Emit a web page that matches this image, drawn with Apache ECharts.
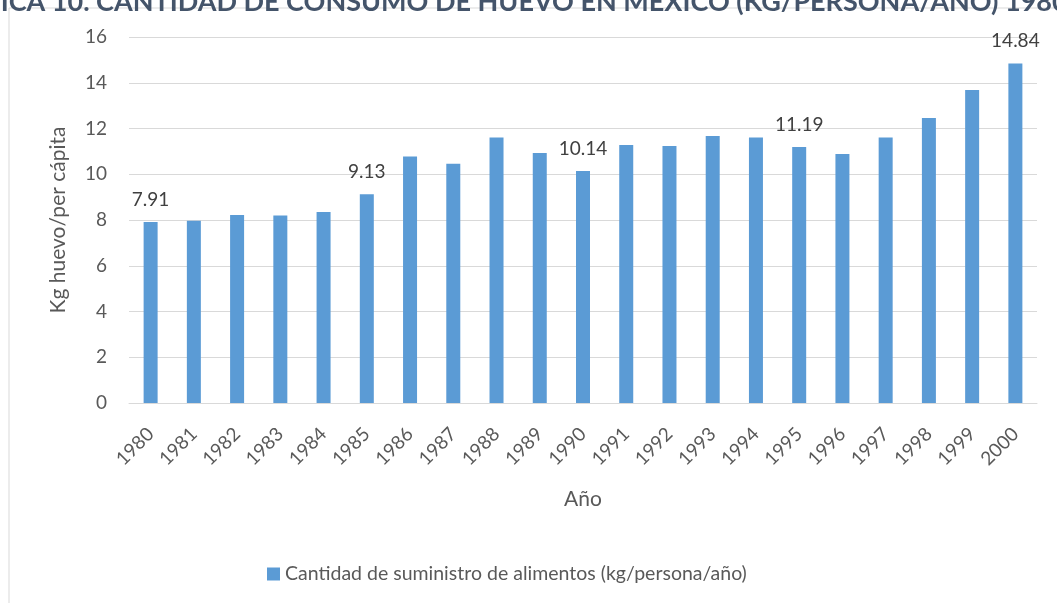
<!DOCTYPE html>
<html>
<head>
<meta charset="utf-8">
<script src="https://cdn.jsdelivr.net/npm/echarts@6/dist/echarts.min.js"></script>
<style>
  html, body { margin: 0; padding: 0; background: #fff; }
  #chart { width: 1057px; height: 603px; }
</style>
</head>
<body>
<div id="chart"></div>
<script>
const years = ['1980', '1981', '1982', '1983', '1984', '1985', '1986', '1987', '1988', '1989', '1990',
  '1991', '1992', '1993', '1994', '1995', '1996', '1997', '1998', '1999', '2000'];
const consumo = [7.91, 7.97, 8.22, 8.2, 8.35, 9.13, 10.78, 10.46, 11.61, 10.93, 10.14,
  11.28, 11.23, 11.67, 11.61, 11.19, 10.89, 11.61, 12.46, 13.68, 14.84];
// only these years carry a value label
const labeledYears = ['1980', '1985', '1990', '1995', '2000'];
const yTicks = [0, 2, 4, 6, 8, 10, 12, 14, 16];

const titleText = 'GRÁFICA 10. CANTIDAD DE CONSUMO DE HUEVO EN MÉXICO (KG/PERSONA/AÑO) 1980-2000';
const seriesName = 'Cantidad de suministro de alimentos (kg/persona/año)';
const font = 'Lato, "Open Sans", sans-serif';

(function () {
  const el = document.getElementById('chart');
  const chart = echarts.init(el);

  const option = {
    animation: false,
    textStyle: { fontFamily: font },
    graphic: [
      {
        type: 'rect',
        shape: { x: 9, y: 8, width: 1200, height: 800 },
        style: { fill: 'none', stroke: '#d9d9d9', lineWidth: 1 },
        silent: true
      },
      {
        // caption sits above the chart and is cut off by the page edge
        type: 'text',
        x: 535,
        y: 16,
        style: {
          text: titleText,
          fill: '#44546a',
          font: 'bold 27px ' + font,
          textAlign: 'center',
          textVerticalAlign: 'bottom'
        }
      }
    ],
    grid: { left: 129, right: 20, top: 37, bottom: 200 },
    legend: {
      data: [seriesName],
      left: 262,
      top: 559,
      itemWidth: 13,
      itemHeight: 13,
      itemGap: 6,
      icon: 'rect',
      textStyle: { color: '#595959', fontSize: 19.5, fontFamily: font }
    },
    xAxis: {
      type: 'category',
      data: years,
      name: 'Año',
      nameLocation: 'middle',
      nameGap: 86,
      nameTextStyle: { color: '#595959', fontSize: 21 },
      axisLine: { lineStyle: { color: '#d9d9d9', width: 1 } },
      axisTick: { show: false },
      axisLabel: { rotate: 45, color: '#595959', fontSize: 19, margin: 28, interval: 0 }
    },
    yAxis: {
      type: 'value',
      min: yTicks[0],
      max: yTicks[yTicks.length - 1],
      interval: yTicks[1] - yTicks[0],
      name: 'Kg huevo/per cápita',
      nameLocation: 'middle',
      nameGap: 60,
      nameTextStyle: { color: '#595959', fontSize: 21 },
      axisLine: { show: false },
      axisTick: { show: false },
      axisLabel: { color: '#595959', fontSize: 19, margin: 22 },
      splitLine: { lineStyle: { color: '#d9d9d9', width: 1 } }
    },
    series: [
      {
        name: seriesName,
        type: 'bar',
        barWidth: 14,
        itemStyle: { color: '#5b9bd5' },
        data: consumo.map((v, i) => ({
          value: v,
          label: {
            show: labeledYears.includes(years[i]),
            position: 'top',
            distance: 13,
            color: '#404040',
            fontSize: 19,
            formatter: (p) => p.value.toFixed(2)
          }
        }))
      }
    ]
  };

  chart.setOption(option);
  window.addEventListener('resize', () => chart.resize());
})();
</script>
</body>
</html>
